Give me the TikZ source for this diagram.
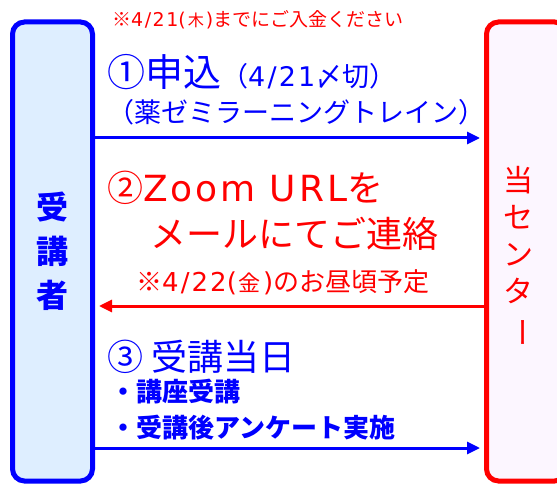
\documentclass[tikz,border=0pt]{standalone}
\usepackage{fontspec}
\setmainfont{Noto Sans CJK JP}
\newfontfamily\latin{DejaVu Sans}
\newfontfamily\widelatin[LetterSpace=8]{DejaVu Sans}
\usepackage{tikz}
\usetikzlibrary{arrows.meta}
\usetikzlibrary{calc}
\definecolor{stublue}{RGB}{0,0,255}
\definecolor{cenred}{RGB}{255,0,0}
\definecolor{stufill}{RGB}{222,238,255}
\definecolor{cenfill}{RGB}{252,246,255}
\tikzstyle{party} = [rectangle, rounded corners=12pt, line width=5pt,
    minimum width=80pt, minimum height=459pt, inner sep=0pt]
\tikzstyle{msg} = [anchor=west, inner sep=0pt]
\tikzset{>={Triangle[length=13pt,width=12pt]}}
\tikzset{flow/.style={->, line width=3pt}}
\newcommand{\fsz}[2]{\fontsize{#1}{#2}\selectfont}
\newcommand{\kakko}[1]{{\latin(}\kern2pt\scalebox{0.85}{#1}\kern2pt{\latin)}}   %weekday

\begin{document}
\begin{tikzpicture}[x=1pt,y=-1pt]
\useasboundingbox (0,0) rectangle (557,484);
\clip (0,0) rectangle (557,484);
    %participants
    \node[party, draw=stublue, fill=stufill] (stu) at (52.5,251.5) {};
    \node[party, draw=cenred, fill=cenfill, anchor=west] (cen) at (484,251.5) {};
    \node[stublue, align=center, font=\fsz{32}{44}\bfseries] (stulabel) at (stu) {受\\講\\者};
    \node[cenred, align=center, font=\fsz{30}{37}] (cenlabel) at (518,257)
        {当\\セ\\ン\\タ\\\rotatebox[origin=c]{-90}{ー}};
    %message rows
    \foreach \y/\from/\to/\c in {138/stu.east/cen.west/stublue,
        306/cen.west/stu.east/cenred, 448/stu.east/cen.west/stublue}
    {\coordinate (row\y) at (0,\y);
    \draw[flow, \c, shorten >=4pt] (\from |- row\y) -- (\to |- row\y);}
    %texts
    \node[msg, cenred, font=\fsz{19}{22}] (due1) at (112,20)
        {※{\widelatin 4/21}\kakko{木}までにご入金ください};
    \node[msg, stublue, font=\fsz{38}{44}] (apply) at (107,72)
        {①申込{\fsz{27}{30}（{\widelatin 4/21}〆切）}};
    \node[msg, stublue, font=\fsz{27}{30}] (site) at (107,112) {（薬ゼミラーニングトレイン）};
    \node[msg, cenred, font=\fsz{36}{40}] (zoom) at (107,188) {②{\widelatin Zoom URL}を};
    \node[msg, cenred, font=\fsz{36}{40}] (mail) at (150,234) {メールにてご連絡};
    \node[msg, cenred, font=\fsz{26}{28}] (due2) at (136,282)
        {※{\widelatin 4/22}\kakko{金}のお昼頃予定};
    \node[msg, stublue, font=\fsz{36}{40}] (day) at (107,357) {③ 受講当日};
    \node[msg, stublue, font=\fsz{26}{30}\bfseries] (item1) at (110,392) {・講座受講};
    \node[msg, stublue, font=\fsz{26}{30}\bfseries] (item2) at (110,427.5) {・受講後アンケート実施};
\end{tikzpicture}
\end{document}
